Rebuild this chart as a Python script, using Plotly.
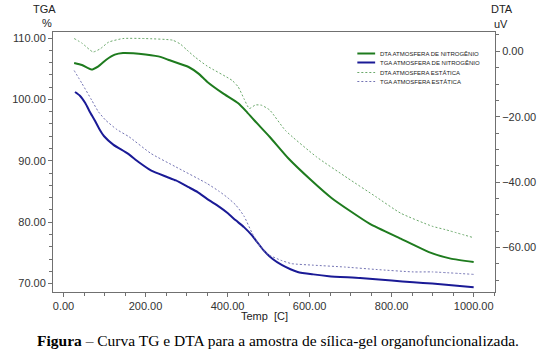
import plotly.graph_objects as go

# ---- data ----
temp_tga_n = [28, 40, 53, 64, 76, 88, 99, 122, 156, 183, 213, 251, 274, 305, 327, 350, 380, 400, 420, 440, 460,
              488, 510, 533, 571, 609, 647, 723, 800, 853, 899, 1000]
tga_n = [101.2, 100.6, 99.4, 98.0, 96.6, 95.1, 94.0, 92.6, 91.2, 89.8, 88.45, 87.4, 86.8, 85.7, 84.9, 83.8, 82.5,
         81.5, 80.3, 79.2, 77.8, 75.4, 74.0, 73.0, 71.9, 71.5, 71.2, 70.9, 70.5, 70.2, 70.0, 69.4]

temp_tga_s = [26, 45, 69, 85, 103, 130, 160, 213, 274, 350, 380, 400, 420, 440, 460, 480, 500, 530, 556, 609,
              685, 762, 853, 899, 1000]
tga_s = [104.7, 102.6, 99.85, 98.0, 96.6, 95.1, 93.9, 91.2, 89.0, 86.3, 85.0, 84.0, 82.8, 81.0, 78.2, 76.0,
         74.7, 73.8, 73.25, 73.0, 72.7, 72.3, 71.9, 71.9, 71.5]

temp_dta_n = [26, 45, 68, 85, 105, 125, 145, 170, 200, 236, 259, 305, 330, 350, 388, 426, 445, 465, 503, 548,
              602, 655, 746, 822, 891, 944, 1000]
dta_n = [-3.6, -4.2, -5.6, -4.6, -2.5, -1.0, -0.5, -0.6, -1.0, -1.7, -2.75, -4.8, -6.9, -9.3, -12.8, -15.9,
         -18.3, -21.1, -26.2, -32.7, -39.2, -45.0, -52.7, -57.3, -61.4, -63.4, -64.4]

temp_dta_s = [26, 45, 72, 90, 110, 145, 198, 266, 285, 300, 320, 350, 411, 426, 440, 453, 468, 483, 503, 541, 617,
              693, 762, 822, 899, 930, 1000]
dta_s = [3.9, 2.5, -0.2, 0.8, 2.8, 3.9, 3.9, 3.4, 2.2, 0.5, -1.7, -4.5, -8.9, -10.9, -14.5, -17.5, -16.4, -16.5,
         -18.0, -24.2, -32.3, -38.8, -44.5, -49.5, -53.5, -54.5, -57.0]

series_names = ["DTA ATMOSFERA DE NITROGÊNIO", "TGA ATMOSFERA DE NITROGÊNIO",
                "DTA ATMOSFERA ESTÁTICA", "TGA ATMOSFERA ESTÁTICA"]
series_colors = ["#1e7b1e", "#1a1a96", "#6aa86a", "#7474b4"]
series_dash = ["solid", "solid", "2px,2px", "2px,2px"]
series_width = [2, 2, 1, 1]

x_ticks = [0, 200, 400, 600, 800, 1000]
left_ticks = [70, 80, 90, 100, 110]
right_ticks = [-60, -40, -20, 0]

caption = "<b>Figura</b> – Curva TG e DTA para a amostra de sílica-gel organofuncionalizada."

fig = go.Figure()
data_sets = [(temp_dta_n, dta_n, "y2"), (temp_tga_n, tga_n, "y"),
             (temp_dta_s, dta_s, "y2"), (temp_tga_s, tga_s, "y")]
for i, (xs, ys, ax) in enumerate(data_sets):
    fig.add_trace(go.Scatter(x=xs, y=ys, yaxis=ax, mode="lines", name=series_names[i],
                             line=dict(color=series_colors[i], width=series_width[i],
                                       dash=series_dash[i], shape="spline", smoothing=0.5),
                             showlegend=False))

axcol = "#707070"
tickfont = dict(family="Liberation Sans, Arial, sans-serif", size=11, color="#333333")

fig.update_layout(
    width=548, height=350,
    margin=dict(l=36, r=40, t=32, b=58),
    paper_bgcolor="white", plot_bgcolor="white",
    xaxis=dict(range=[-25.6, 1052], tickvals=x_ticks, tickformat=".2f", ticks="outside", ticklen=4,
               tickcolor=axcol, showline=True, linecolor=axcol, linewidth=1, mirror=True,
               showgrid=False, zeroline=False, tickfont=tickfont,
               minor=dict(dtick=50, tick0=0, ticks="outside", ticklen=3, tickcolor=axcol)),
    yaxis=dict(range=[68.63, 110.98], tickvals=left_ticks, tickformat=".2f", ticks="outside", ticklen=4,
               tickcolor=axcol, showline=True, linecolor=axcol, linewidth=1,
               showgrid=False, zeroline=False, tickfont=tickfont,
               minor=dict(dtick=2, tick0=0, ticks="outside", ticklen=3, tickcolor=axcol)),
    yaxis2=dict(range=[-73.6, 5.9], tickvals=right_ticks, tickformat=".2f", ticks="outside", ticklen=4,
                tickcolor=axcol, showline=True, linecolor=axcol, linewidth=1, overlaying="y", side="right",
                showgrid=False, zeroline=False, tickfont=tickfont,
                minor=dict(dtick=5, tick0=0, ticks="outside", ticklen=3, tickcolor=axcol)),
)

# axis titles
titles = [("TGA", -0.019, 1.088), ("%", -0.0127, 1.035), ("DTA", 1.015, 1.088), ("uV", 1.0127, 1.031),
          ("Temp  [C]", 0.478, -0.092)]
for t, x, y in titles:
    fig.add_annotation(text=t, x=x, y=y, xref="paper", yref="paper", showarrow=False,
                       xanchor="center", yanchor="middle",
                       font=dict(family="Liberation Sans, Arial, sans-serif", size=11, color="#222222"))

fig.add_annotation(text=caption, x=0.508, y=-0.185, xref="paper", yref="paper", showarrow=False,
                   xanchor="center", yanchor="middle",
                   font=dict(family="Liberation Serif, Times New Roman, serif", size=15.5, color="#000000"))

# manual legend (pixel positions converted to paper coords)
W, H, L, T = 472, 260, 36, 32
leg_y = [53.5, 62.5, 72.5, 81.5]
for i, py in enumerate(leg_y):
    yp = 1 - (py - T) / H
    fig.add_shape(type="line", xref="paper", yref="paper",
                  x0=(361 - L) / W, x1=(380 - L) / W, y0=yp, y1=yp,
                  line=dict(color=series_colors[i], width=series_width[i], dash=series_dash[i]))
    fig.add_annotation(text=series_names[i], x=(383 - L) / W, y=yp, xref="paper", yref="paper",
                       showarrow=False, xanchor="left", yanchor="middle",
                       font=dict(family="Liberation Sans, Arial, sans-serif", size=6, color="#222222"))

fig.write_html("out.html")
